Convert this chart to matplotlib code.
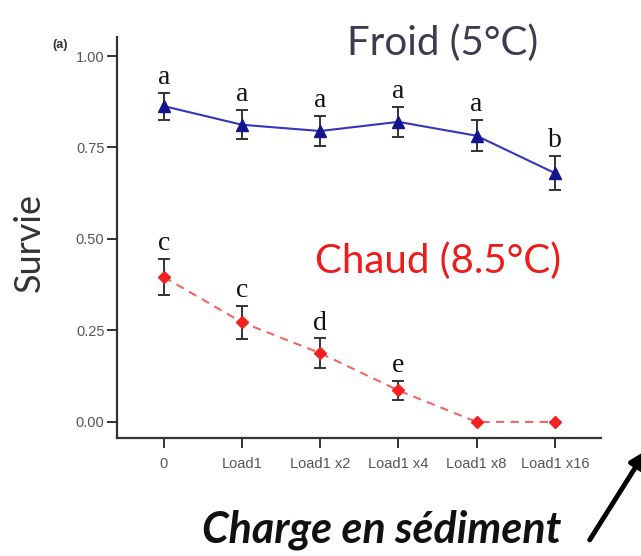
import matplotlib
matplotlib.use("Agg")
import matplotlib.pyplot as plt
import numpy as np

# data
categories = ["0", "Load1", "Load1 x2", "Load1 x4", "Load1 x8", "Load1 x16"]
froid_mean = [0.863, 0.812, 0.795, 0.820, 0.782, 0.680]
froid_err = [0.037, 0.040, 0.040, 0.040, 0.042, 0.047]
froid_letters = ["a", "a", "a", "a", "a", "b"]
chaud_mean = [0.396, 0.272, 0.188, 0.086, 0.0, 0.0]
chaud_err = [0.050, 0.045, 0.040, 0.026, 0.0, 0.0]
chaud_letters = ["c", "c", "d", "e", None, None]
yticks = [0.00, 0.25, 0.50, 0.75, 1.00]

fig = plt.figure(figsize=(6.41, 5.56), dpi=100)
ax = fig.add_axes([0.1825, 0.2122, 0.755, 0.7213])

x = np.arange(len(categories))
tick_grey = "#555555"

# Froid (blue, solid)
ax.plot(x, froid_mean, color="#3535b8", lw=1.5, zorder=2)
ax.errorbar(x, froid_mean, yerr=froid_err, fmt="none", ecolor="#333333",
            elinewidth=1.4, capsize=4, capthick=1.4, zorder=3)
ax.plot(x, froid_mean, ls="none", marker="^", ms=8, color="#14148c", zorder=4)

# Chaud (red, dashed)
ax.plot(x, chaud_mean, color="#f06666", lw=1.5, ls=(0, (4, 3)), zorder=2)
has_err = [e > 0 for e in chaud_err]
ax.errorbar(x[has_err], np.array(chaud_mean)[has_err], yerr=np.array(chaud_err)[has_err],
            fmt="none", ecolor="#333333", elinewidth=1.4, capsize=4, capthick=1.4, zorder=3)
ax.plot(x, chaud_mean, ls="none", marker="D", ms=6, color="#f22020", zorder=4)

# significance letters
for xi, m, e, lab in zip(x, froid_mean, froid_err, froid_letters):
    ax.text(xi, m + e + 0.008, lab, ha="center", va="bottom",
            fontsize=20, family="Liberation Serif", color="#111111")
for xi, m, e, lab in zip(x, chaud_mean, chaud_err, chaud_letters):
    if lab:
        ax.text(xi, m + e + 0.008, lab, ha="center", va="bottom",
                fontsize=20, family="Liberation Serif", color="#111111")

ax.set_xlim(-0.6, 5.59)
ax.set_ylim(-0.044, 1.052)
ax.set_xticks(x)
ax.set_xticklabels(categories)
ax.set_yticks(yticks)
ax.set_yticklabels([f"{v:.2f}" for v in yticks])
for s in ["top", "right"]:
    ax.spines[s].set_visible(False)
for s in ["left", "bottom"]:
    ax.spines[s].set_linewidth(1.6)
    ax.spines[s].set_color("#333333")
ax.tick_params(direction="out", length=7, width=1.4, color="#333333",
               labelsize=10.5, labelcolor=tick_grey)
ax.tick_params(axis="y", pad=2)
ax.tick_params(axis="x", pad=7)
for lab in ax.get_xticklabels() + ax.get_yticklabels():
    lab.set_family("Liberation Sans")

# annotations
fig.text(0.081, 0.913, "(a)", fontsize=9, fontweight="bold", color="#333333",
         family="Liberation Sans")
fig.text(0.69, 0.922, "Froid (5°C)", fontsize=29, color="#3c3c50",
         family="Lato", ha="center", va="center")
fig.text(0.491, 0.530, "Chaud (8.5°C)", fontsize=29, color="#ee1b1b",
         family="Lato", ha="left", va="center")
fig.text(0.046, 0.563, "Survie", fontsize=26, color="#333333", rotation=90,
         family="Lato", ha="center", va="center")
fig.text(0.595, 0.048, "Charge en sédiment", fontsize=31, color="#111111",
         family="Lato", fontweight="bold", style="italic", ha="center", va="center")
ax.annotate("", xy=(1.008, 0.19), xytext=(0.920, 0.029), xycoords="figure fraction",
            textcoords="figure fraction",
            arrowprops=dict(arrowstyle="-|>", color="black", lw=3.5, mutation_scale=24,
                            shrinkA=0, shrinkB=0, capstyle="round"))

fig.savefig("out.png", dpi=100)
